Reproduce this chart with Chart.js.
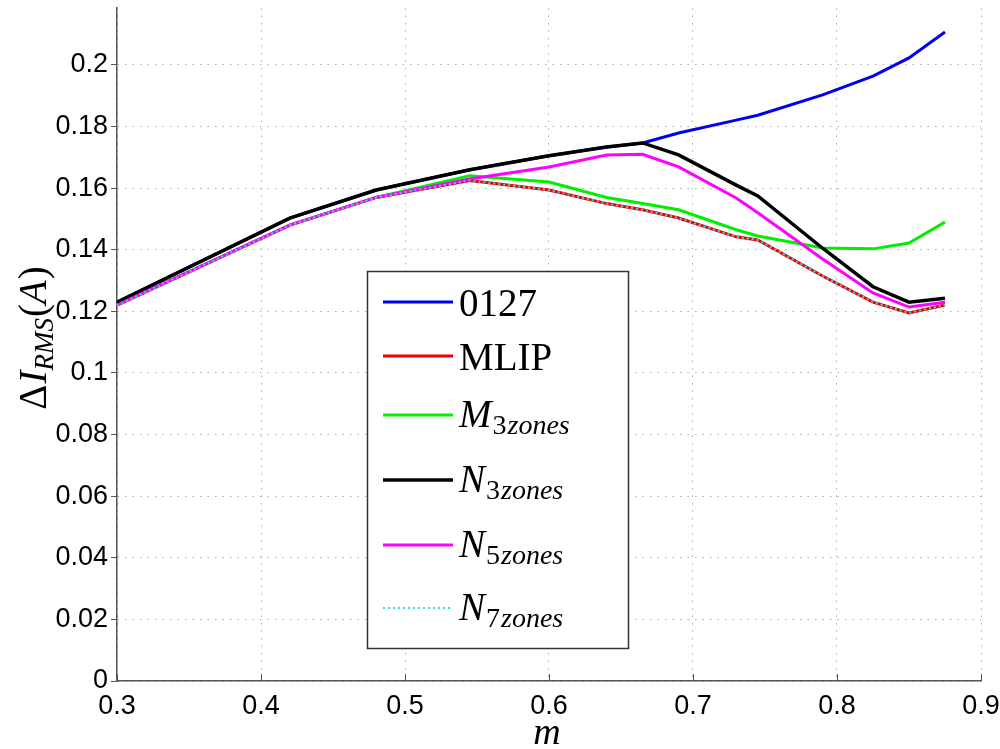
<!DOCTYPE html>
<html>
<head>
<meta charset="utf-8">
<script src="https://cdn.jsdelivr.net/npm/chart.js@4.4.0/dist/chart.umd.min.js"></script>
<style>
  html, body { margin: 0; padding: 0; background: #fff; }
  #wrap { width: 1000px; height: 749px; position: relative; }
</style>
</head>
<body>
<div id="wrap"><canvas id="chart" width="1000" height="749"></canvas></div>
<script>
// modulation index values (x axis)
const mValues = [0.3, 0.42, 0.48, 0.545, 0.6, 0.64, 0.665, 0.69, 0.73, 0.745, 0.79, 0.825, 0.85, 0.875];

// RMS current ripple for each method
const s0127   = [0.123, 0.1503, 0.1594, 0.166, 0.1705, 0.1734, 0.1747, 0.1779, 0.1821, 0.1837, 0.1903, 0.1964, 0.2023, 0.2107];
const sMLIP   = [0.122, 0.148, 0.157, 0.1625, 0.1594, 0.155, 0.153, 0.1503, 0.1442, 0.1432, 0.1315, 0.123, 0.1195, 0.1221];
const sM3     = [0.122, 0.148, 0.157, 0.164, 0.162, 0.157, 0.155, 0.153, 0.1465, 0.1445, 0.1406, 0.1403, 0.1422, 0.149];
const sN3     = [0.123, 0.1503, 0.1594, 0.166, 0.1705, 0.1734, 0.1747, 0.1708, 0.161, 0.1575, 0.1405, 0.128, 0.123, 0.1243];
const sN5     = [0.122, 0.148, 0.157, 0.163, 0.1669, 0.1708, 0.171, 0.1669, 0.1568, 0.152, 0.137, 0.126, 0.1214, 0.123];
const sN7     = [0.122, 0.148, 0.157, 0.1625, 0.1594, 0.155, 0.153, 0.1503, 0.1442, 0.1432, 0.1315, 0.123, 0.1195, 0.1221];

const xTicks = [0.3, 0.4, 0.5, 0.6, 0.7, 0.8, 0.9];
const yTicks = [0, 0.02, 0.04, 0.06, 0.08, 0.1, 0.12, 0.14, 0.16, 0.18, 0.2];

const seriesList = [
  { label: '0127', data: s0127, color: '#0000ee', width: 3 },
  { label: 'MLIP', data: sMLIP, color: '#ee0000', width: 3 },
  { label: 'M3', data: sM3, color: '#00ee00', width: 3 },
  { label: 'N3', data: sN3, color: '#000000', width: 3.5 },
  { label: 'N5', data: sN5, color: '#ff00ff', width: 3 },
  { label: 'N7', data: sN7, color: '#33dddd', width: 2, dash: [2, 3] },
];

// legend entries: main symbol, subscript, italic?
const legendItems = [
  { main: '0127', sub: '', italic: false },
  { main: 'MLIP', sub: '', italic: false },
  { main: 'M', sub: 'zones', num: '3', italic: true },
  { main: 'N', sub: 'zones', num: '3', italic: true },
  { main: 'N', sub: 'zones', num: '5', italic: true },
  { main: 'N', sub: 'zones', num: '7', italic: true },
];

const SERIF = '"Liberation Serif", "DejaVu Serif", serif';

// draws a list of text runs one after another, returns total width
function drawRuns(ctx, runs, x, y, measureOnly) {
  let cx = x;
  runs.forEach(r => {
    ctx.font = r.font;
    if (!measureOnly) ctx.fillText(r.t, cx, y + (r.dy || 0));
    cx += ctx.measureText(r.t).width + (r.gap || 0);
  });
  return cx - x;
}

const overlayPlugin = {
  id: 'overlay',
  beforeDatasetsDraw(chart) {
    // inward tick marks on the x axis
    const ctx = chart.ctx;
    const xs = chart.scales.x;
    const area = chart.chartArea;
    ctx.save();
    ctx.strokeStyle = '#555';
    ctx.lineWidth = 1;
    xTicks.forEach(v => {
      const px = Math.round(xs.getPixelForValue(v)) + 0.5;
      ctx.beginPath();
      ctx.moveTo(px, area.bottom);
      ctx.lineTo(px, area.bottom - 7);
      ctx.stroke();
    });
    ctx.restore();
  },
  afterDraw(chart) {
    const ctx = chart.ctx;
    ctx.save();
    ctx.fillStyle = '#000';
    ctx.textBaseline = 'alphabetic';

    // y axis title: ΔI_RMS(A)
    const yRuns = [
      { t: '\u0394', font: '39px ' + SERIF, gap: 1 },
      { t: 'I', font: 'italic 39px ' + SERIF },
      { t: 'RMS', font: 'italic 27px ' + SERIF, dy: 7, gap: 1 },
      { t: '(', font: '39px ' + SERIF },
      { t: 'A', font: 'italic 39px ' + SERIF, gap: 1 },
      { t: ')', font: '39px ' + SERIF },
    ];
    const yw = drawRuns(ctx, yRuns, 0, 0, true);
    ctx.save();
    ctx.translate(46, 338);
    ctx.rotate(-Math.PI / 2);
    drawRuns(ctx, yRuns, -yw / 2, 0);
    ctx.restore();

    // x axis title: m
    ctx.font = 'italic 38px ' + SERIF;
    ctx.textAlign = 'center';
    ctx.fillText('m', 547, 744);
    ctx.textAlign = 'left';

    // legend box
    const bx = 367, by = 271, bw = 261, bh = 377;
    ctx.fillStyle = '#fff';
    ctx.fillRect(bx, by, bw, bh);
    ctx.strokeStyle = '#333';
    ctx.lineWidth = 1.5;
    ctx.strokeRect(bx + 0.5, by + 0.5, bw, bh);

    const rowY = [302, 356, 415, 480, 545, 608];
    legendItems.forEach((item, i) => {
      const s = seriesList[i];
      const ly = rowY[i];
      ctx.save();
      ctx.strokeStyle = s.color;
      ctx.lineWidth = s.width;
      ctx.setLineDash(s.dash || []);
      ctx.beginPath();
      ctx.moveTo(383, ly);
      ctx.lineTo(453, ly);
      ctx.stroke();
      ctx.restore();

      ctx.fillStyle = '#000';
      let runs;
      if (item.italic) {
        runs = [
          { t: item.main, font: 'italic 39px ' + SERIF, gap: 1 },
          { t: item.num, font: '28px ' + SERIF, dy: 7, gap: 1 },
          { t: item.sub, font: 'italic 28px ' + SERIF, dy: 7 },
        ];
        drawRuns(ctx, runs, 459, ly + 12);
      } else {
        runs = [{ t: item.main, font: '39px ' + SERIF }];
        drawRuns(ctx, runs, 459, ly + 14);
      }
    });
    ctx.restore();
  }
};

const ctx = document.getElementById('chart');
new Chart(ctx, {
  type: 'line',
  data: {
    datasets: seriesList.map((s, i) => ({
      label: s.label,
      data: mValues.map((m, j) => ({ x: m, y: s.data[j] })),
      borderColor: s.color,
      borderWidth: s.width,
      borderDash: s.dash || [],
      pointRadius: 0,
      tension: 0,
      fill: false,
      order: seriesList.length - 1 - i, // later series drawn on top
    }))
  },
  options: {
    responsive: false,
    animation: false,
    events: [],
    layout: { padding: { top: 8, right: 19, left: 0, bottom: 0 } },
    plugins: {
      legend: { display: false },
      tooltip: { enabled: false },
      title: { display: false },
    },
    scales: {
      x: {
        type: 'linear',
        min: 0.3,
        max: 0.9,
        afterBuildTicks: (scale) => { scale.ticks = xTicks.map(v => ({ value: v })); },
        afterFit: (scale) => {
          scale.height = 68;
          scale.paddingLeft = 0;
          scale.paddingRight = 0;
        },
        ticks: {
          color: '#000',
          padding: 9,
          maxRotation: 0,
          font: { family: '"Liberation Sans", sans-serif', size: 27 },
          callback: (v) => v.toFixed(1),
        },
        grid: {
          color: '#b0b0b0',
          lineWidth: 1,
          drawTicks: false,
        },
        border: { display: true, color: '#555', width: 1.5, dash: [1.5, 6] },
      },
      y: {
        type: 'linear',
        min: 0,
        max: 0.2185,
        afterBuildTicks: (scale) => { scale.ticks = yTicks.map(v => ({ value: v })); },
        afterFit: (scale) => {
          scale.width = 117;
          scale.paddingTop = 0;
          scale.paddingBottom = 0;
        },
        ticks: {
          color: '#000',
          padding: 3,
          font: { family: '"Liberation Sans", sans-serif', size: 27 },
          callback: (v) => String(Number(v.toFixed(2))),
        },
        grid: {
          color: '#b0b0b0',
          lineWidth: 1,
          drawTicks: true,
          tickLength: 6,
          tickColor: '#555',
          tickBorderDash: [],
        },
        border: { display: true, color: '#555', width: 1.5, dash: [1.5, 6] },
      }
    }
  },
  plugins: [overlayPlugin]
});
</script>
</body>
</html>
